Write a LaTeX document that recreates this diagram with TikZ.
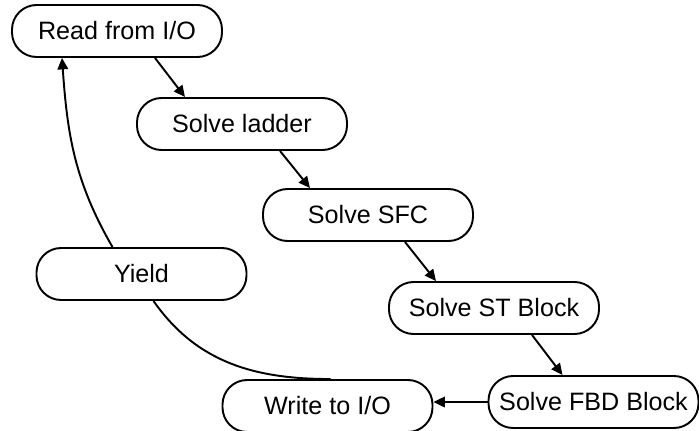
\documentclass[tikz,border=0pt]{standalone}
\usepackage{fontspec}
\setmainfont{Liberation Sans}
\usepackage{tikz}
\usetikzlibrary{calc,arrows.meta,positioning}
\tikzset{
	stage/.style={draw,line width=1.1pt,rounded corners=14pt,minimum width=4.2cm,minimum height=1.04cm,inner sep=0pt,font=\fontsize{14.3}{17}\selectfont},
	flow/.style={line width=1.1pt,-{Triangle[length=6.5pt,width=6pt]}},
	back/.style={line width=1.1pt}
}

\begin{document}
\begin{tikzpicture}
		\useasboundingbox (0,0) rectangle (13.98,8.6);
		
		% -------------------------------------------------
		% 1. Stages of the scan
		% -------------------------------------------------
		\node[stage] (read)   at (2.34,7.98) {Read from I/O};
		\node[stage] (ladder) at (4.84,6.12) {Solve ladder};
		\node[stage] (sfc)    at (7.36,4.30) {Solve SFC};
		\node[stage] (st)     at (9.88,2.44) {Solve ST Block};
		\node[stage] (fbd)    at (11.87,0.56) {Solve FBD Block};
		\node[stage] (write)  at (6.55,0.48) {Write to I/O};
		\node[stage] (yield)  at (2.83,3.12) {Yield};
		
		% -------------------------------------------------
		% 2. Forward steps
		% -------------------------------------------------
		\draw[flow] ([xshift=0.76cm]read.south) -- ([xshift=-1.14cm]ladder.north);
		\draw[flow] ([xshift=0.76cm]ladder.south) -- ([xshift=-1.16cm]sfc.north);
		\draw[flow] ([xshift=0.74cm]sfc.south) -- ([xshift=-1.16cm]st.north);
		\draw[flow] ([xshift=0.76cm]st.south) -- ([xshift=-0.62cm]fbd.north);
		\draw[flow] (fbd.west) -- (fbd.west -| write.east);
		
		% -------------------------------------------------
		% 3. Back to the start
		% -------------------------------------------------
		\draw[back] ([xshift=0.06cm]write.north) to[out=180,in=-55] ([xshift=0.24cm]yield.south);
		\draw[flow] ([xshift=-0.58cm]yield.north) to[out=120,in=-86] ([xshift=-1.1cm]read.south);
		
	\end{tikzpicture}
\end{document}
